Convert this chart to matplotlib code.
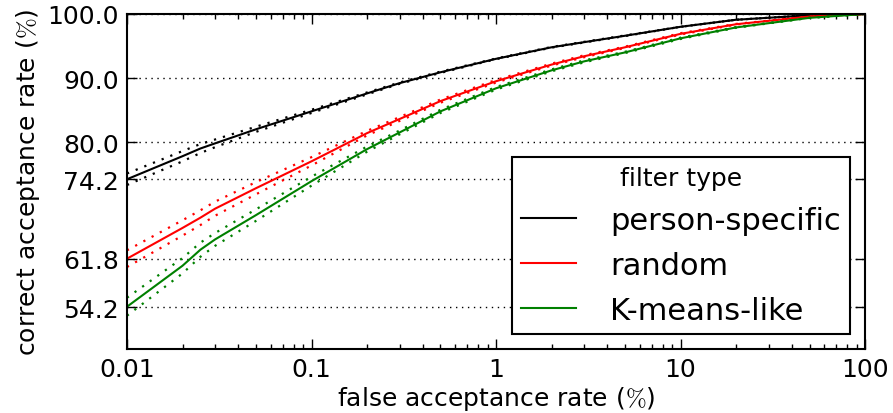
import numpy as np
import matplotlib
matplotlib.use('Agg')
import matplotlib.pyplot as plt
from matplotlib.ticker import NullFormatter

plt.rcParams['font.family'] = 'DejaVu Sans'
plt.rcParams['font.size'] = 18
plt.rcParams['mathtext.fontset'] = 'cm'

# false acceptance rate (%) sample points
far = [0.01, 0.02, 0.025, 0.03, 0.05, 0.1, 0.2, 0.3, 0.5, 1, 2, 3, 5, 10, 20, 50, 100]

# correct acceptance rate (%) per filter type
person_specific = [74.2, 77.8, 79.0, 79.8, 82.0, 84.8, 87.6, 89.2, 90.9, 93.0, 94.8, 95.6, 96.6, 98.0, 99.1, 99.8, 100.0]
random_filter = [61.8, 66.6, 68.2, 69.6, 72.8, 77.0, 81.4, 83.6, 86.4, 89.5, 92.1, 93.4, 94.8, 96.9, 98.4, 99.6, 100.0]
kmeans_like = [54.3, 60.7, 63.2, 64.8, 68.6, 73.9, 78.9, 81.5, 84.8, 88.4, 91.2, 92.6, 94.0, 96.2, 97.9, 99.4, 100.0]

# half width of the dotted bands around each curve
person_specific_hw = [0.9, 0.8, 0.7, 0.6, 0.4, 0.25, 0.15, 0.1, 0.1, 0.05, 0.05, 0.05, 0.05, 0, 0, 0, 0]
random_hw = [1.3, 1.2, 1.15, 1.1, 0.95, 0.65, 0.35, 0.3, 0.25, 0.2, 0.15, 0.15, 0.1, 0.1, 0.05, 0, 0]
kmeans_hw = [1.4, 1.2, 1.1, 1.0, 0.9, 0.7, 0.4, 0.3, 0.25, 0.2, 0.15, 0.15, 0.1, 0.1, 0.05, 0, 0]

labels = ['person-specific', 'random', 'K-means-like']
colors = ['k', 'r', 'g']
yticks = [54.2, 61.8, 74.2, 80.0, 90.0, 100.0]
xticks = [0.01, 0.1, 1, 10, 100]
xticklabels = ['0.01', '0.1', '1', '10', '100']

fig = plt.figure(figsize=(8.93, 4.14), dpi=100)
ax = fig.add_axes([0.1422, 0.1546, 0.8265, 0.8092])

series = [(person_specific, person_specific_hw), (random_filter, random_hw), (kmeans_like, kmeans_hw)]
for (vals, hw), c, lab in zip(series, colors, labels):
    vals = np.array(vals)
    hw = np.array(hw)
    ax.plot(far, vals + hw, color=c, linestyle=(0, (1, 3.2)), linewidth=1.6)
    ax.plot(far, vals - hw, color=c, linestyle=(0, (1, 3.2)), linewidth=1.6)
    ax.plot(far, vals, color=c, linewidth=1.5, label=lab)

ax.set_xscale('log')
ax.set_xlim(0.01, 100)
ax.set_ylim(47.7, 100)
ax.set_xticks(xticks)
ax.set_xticklabels(xticklabels)
ax.xaxis.set_minor_formatter(NullFormatter())
ax.set_yticks(yticks)
ax.set_yticklabels(['%.1f' % v for v in yticks])
ax.yaxis.grid(True, color='k', linestyle=(0, (1, 3.3)), linewidth=1.0)
ax.set_axisbelow(True)

ax.tick_params(which='both', direction='in', top=True, right=True, width=1.0)
ax.tick_params(which='major', length=7, pad=6)
ax.tick_params(which='minor', length=3.5)
for s in ax.spines.values():
    s.set_linewidth(1.5)

ax.set_xlabel(r'false acceptance rate ($\%$)', labelpad=2)
ax.set_ylabel(r'correct acceptance rate ($\%$)', labelpad=4)

leg = ax.legend(loc='lower right', title='filter type', fontsize=22,
                handlelength=1.8, handletextpad=1.1, labelspacing=0.52,
                borderpad=0.3, fancybox=False, framealpha=1.0,
                borderaxespad=0.5)
leg.get_title().set_fontsize(18)
leg.get_frame().set_edgecolor('k')
leg.get_frame().set_linewidth(1.5)

fig.savefig('out.png', dpi=100)
